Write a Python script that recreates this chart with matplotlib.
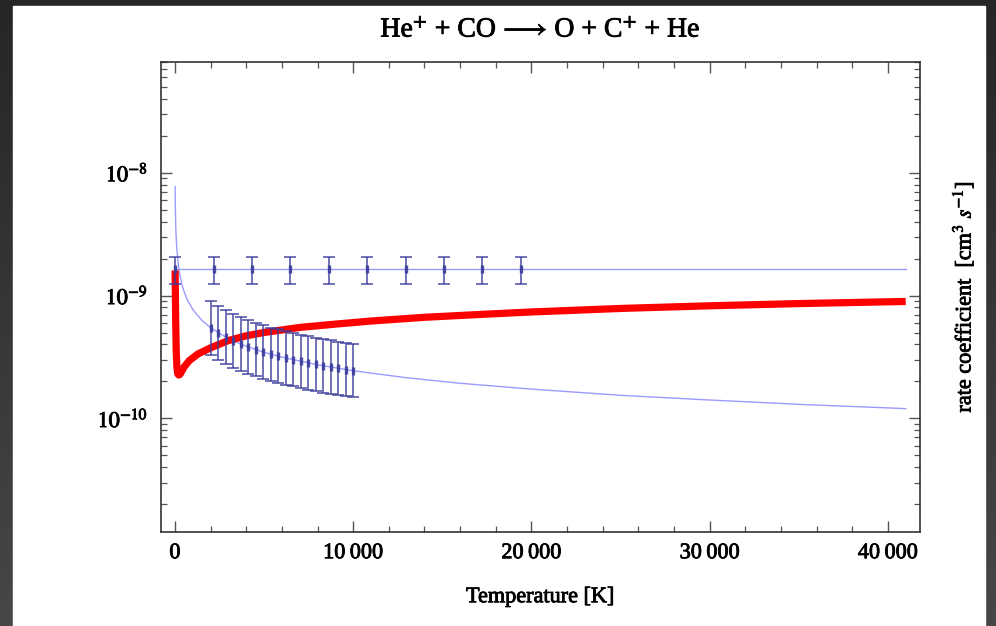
import numpy as np
import matplotlib
matplotlib.use('Agg')
from matplotlib import pyplot as plt
from matplotlib import patheffects as pe
from matplotlib.patches import Rectangle
from matplotlib.ticker import FixedLocator, FixedFormatter, LogLocator, NullFormatter, MultipleLocator

plt.rcParams['font.family'] = ['Liberation Serif', 'DejaVu Serif']
plt.rcParams['mathtext.fontset'] = 'stix'

# Data
# thin decaying fit curve
temp_fit = [10, 20, 50, 100, 200, 300, 400, 500, 700, 1000, 1500, 2000, 3000, 4000,
            5000, 6000, 8000, 10000, 13000, 16000, 20000, 25000, 30000, 35000, 41000]
k_fit = [7.7e-9, 5.5e-9, 3.45e-9, 2.44e-9, 1.73e-9, 1.41e-9, 1.22e-9, 1.09e-9, 9.2e-10,
         7.7e-10, 6.3e-10, 5.46e-10, 4.45e-10, 3.86e-10, 3.45e-10, 3.15e-10, 2.73e-10,
         2.44e-10, 2.14e-10, 1.93e-10, 1.73e-10, 1.54e-10, 1.41e-10, 1.30e-10, 1.20e-10]

# thin constant curve
temp_const = [10, 41000]
k_const = [1.63e-9, 1.63e-9]

# measured points, upper set
temp_up = [10, 2165, 4320, 6475, 8630, 10785, 12940, 15095, 17250, 19405]
k_up = [1.63e-9] * 10
k_up_lo = [1.25e-9] * 10
k_up_hi = [2.07e-9] * 10

# measured points, lower set
temp_low = [2000, 2421, 2842, 3263, 3684, 4105, 4526, 4947, 5368, 5789,
            6211, 6632, 7053, 7474, 7895, 8316, 8737, 9158, 9579, 10000]
k_low = [5.46e-10, 4.96e-10, 4.58e-10, 4.27e-10, 4.02e-10, 3.81e-10, 3.63e-10, 3.47e-10,
         3.33e-10, 3.21e-10, 3.10e-10, 3.00e-10, 2.91e-10, 2.82e-10, 2.75e-10, 2.68e-10,
         2.61e-10, 2.55e-10, 2.49e-10, 2.44e-10]
k_low_lo = [3.31e-10, 3.01e-10, 2.78e-10, 2.59e-10, 2.44e-10, 2.31e-10, 2.20e-10, 2.10e-10,
            2.02e-10, 1.95e-10, 1.88e-10, 1.82e-10, 1.76e-10, 1.71e-10, 1.67e-10, 1.62e-10,
            1.58e-10, 1.55e-10, 1.51e-10, 1.48e-10]
k_low_hi = [9.01e-10, 8.18e-10, 7.56e-10, 7.05e-10, 6.63e-10, 6.29e-10, 5.99e-10, 5.73e-10,
            5.49e-10, 5.30e-10, 5.12e-10, 4.95e-10, 4.80e-10, 4.65e-10, 4.54e-10, 4.42e-10,
            4.31e-10, 4.21e-10, 4.11e-10, 4.03e-10]

# red rate curve
temp_red = [10, 20, 40, 70, 110, 160, 220, 300, 500, 800, 1300, 2000, 3000, 4000, 5000,
            7000, 9000, 11000, 14000, 17000, 20000, 25000, 30000, 35000, 41000]
k_red = [1.6e-9, 1.2e-9, 6.5e-10, 3.6e-10, 2.6e-10, 2.3e-10, 2.25e-10, 2.3e-10, 2.6e-10,
         2.95e-10, 3.35e-10, 3.75e-10, 4.3e-10, 4.7e-10, 5.0e-10, 5.5e-10, 5.85e-10,
         6.2e-10, 6.65e-10, 7.0e-10, 7.35e-10, 7.85e-10, 8.25e-10, 8.6e-10, 8.95e-10]

xticks = [0, 10000, 20000, 30000, 40000]
xticklabels = ['0', '10\u2009000', '20\u2009000', '30\u2009000', '40\u2009000']
yticks = [1e-10, 1e-9, 1e-8]
yticklabels = [r'$10^{-10}$', r'$10^{-9}$', r'$10^{-8}$']

W, H = 996, 626
fig = plt.figure(figsize=(W / 100, H / 100), dpi=100)

# dark screenshot frame with white page
bg = fig.add_axes([0, 0, 1, 1], zorder=-10)
grad = np.linspace(0, 1, 256).reshape(-1, 1)
bg.imshow(grad, cmap=matplotlib.colors.LinearSegmentedColormap.from_list('f', ['#262626', '#474747']),
          aspect='auto', extent=[0, 1, 0, 1], origin='upper')
bg.add_patch(Rectangle((13 / W, 0), (985 - 13) / W, 1 - 6 / H, color='white'))
bg.set_xlim(0, 1)
bg.set_ylim(0, 1)
bg.axis('off')

ax = fig.add_axes([160.5 / W, 1 - 531.7 / H, (920 - 160.5) / W, (531.7 - 61.7) / H])
ax.set_yscale('log')
ax.set_xlim(-810, 41800)
ax.set_ylim(10 ** -10.923, 10 ** -7.096)

thin = '#9a9aff'
ax.plot(temp_const, k_const, color=thin, lw=1.0, zorder=2)
ax.plot(temp_fit, k_fit, color=thin, lw=1.0, zorder=2)
ax.plot(temp_red, k_red, color='#ff0000', lw=5.2, solid_joinstyle='round',
        solid_capstyle='butt', zorder=3)

bar = '#3c3c9c'
for t, k, lo, hi in [(temp_up, k_up, k_up_lo, k_up_hi), (temp_low, k_low, k_low_lo, k_low_hi)]:
    k = np.array(k)
    yerr = [k - np.array(lo), np.array(hi) - k]
    ax.errorbar(t, k, yerr=yerr, fmt='none', ecolor=bar, elinewidth=1.2, capsize=4,
                capthick=1.2, alpha=0.85, zorder=4)
    ax.plot(t, k, ls='none', marker='|', ms=6, mew=2.4, color=bar, alpha=0.9, zorder=5)

ax.xaxis.set_major_locator(FixedLocator(xticks))
ax.xaxis.set_major_formatter(FixedFormatter(xticklabels))
ax.xaxis.set_minor_locator(MultipleLocator(2000))
ax.yaxis.set_major_locator(FixedLocator(yticks))
ax.yaxis.set_major_formatter(FixedFormatter(yticklabels))
ax.yaxis.set_minor_locator(LogLocator(base=10, subs=np.arange(2, 10)))
ax.yaxis.set_minor_formatter(NullFormatter())

ax.tick_params(which='both', direction='in', top=True, right=True, colors='#555555',
               labelcolor='black', labelsize=16)
ax.tick_params(which='major', length=8, width=1.0, pad=9)
ax.tick_params(which='minor', length=4, width=0.9)
for s in ax.spines.values():
    s.set_color('#333333')
    s.set_linewidth(1.2)

# darker strokes, like the heavy Times rendering in the reference
heavy = [pe.withStroke(linewidth=0.6, foreground='black')]

ax.set_title(r'He$^{+}$ + CO$\,\longrightarrow\,$O + C$^{+}$ + He', fontsize=20, pad=18,
             path_effects=heavy)
ax.set_xlabel('Temperature [K]', fontsize=16, labelpad=18, path_effects=heavy)
ax.yaxis.set_label_position('right')
ax.set_ylabel(r'rate coefficient  [cm$^{3}$ $s^{-1}$]', fontsize=16, labelpad=22,
              path_effects=heavy)
for lbl in ax.get_xticklabels() + ax.get_yticklabels():
    lbl.set_path_effects(heavy)

fig.savefig('out.png', dpi=100)
